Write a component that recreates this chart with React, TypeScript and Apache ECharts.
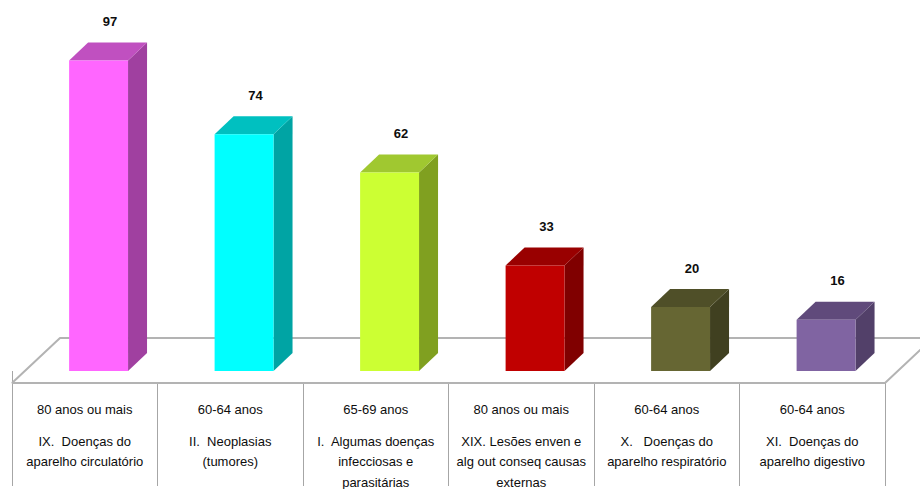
import React, { useEffect, useRef } from "react";
import * as echarts from "echarts";

const ageGroups = [
  "80 anos ou mais",
  "60-64 anos",
  "65-69 anos",
  "80 anos ou mais",
  "60-64 anos",
  "60-64 anos",
];
const causes = [
  "IX.  Doenças do\naparelho circulatório",
  "II.  Neoplasias\n(tumores)",
  "I.  Algumas doenças\ninfecciosas e\nparasitárias",
  "XIX. Lesões enven e\nalg out conseq causas\nexternas",
  "X.   Doenças do\naparelho respiratório",
  "XI.  Doenças do\naparelho digestivo",
];
const values = [97, 74, 62, 33, 20, 16];
const frontColors = ["#FF66FF", "#00FFFF", "#CCFF33", "#C00000", "#666633", "#8064A2"];
const sideColors = ["#A040A0", "#00A4A4", "#80A020", "#800000", "#404020", "#524069"];
const topColors = ["#C050C0", "#00C0C0", "#A0C830", "#990000", "#4F4F28", "#604A7B"];

const FONT = "'Liberation Sans', Arial, sans-serif";
const TEXT = "#0d0d0d";

export default function App() {
  const ref = useRef<HTMLDivElement>(null);
  useEffect(() => {
    if (!ref.current) return;
    const chart = echarts.init(ref.current, undefined, { renderer: "svg" });
    const categories = ageGroups.map((a, i) => a + " | " + causes[i]);
    chart.setOption({
      animation: false,
      backgroundColor: "#ffffff",
      grid: { left: 12, right: 35, top: 51, bottom: 118, containLabel: false },
      xAxis: {
        type: "category",
        data: categories,
        offset: 12,
        boundaryGap: true,
        axisLine: { show: false },
        axisTick: {
          show: true,
          length: 115,
          alignWithLabel: false,
          lineStyle: { color: "#a6a6a6", width: 1 },
        },
        axisLabel: {
          interval: 0,
          margin: 4,
          verticalAlign: "top",
          align: "center",
          fontFamily: FONT,
          fontSize: 13,
          color: TEXT,
          formatter: (_v: string, idx: number) =>
            `{a|${ageGroups[idx]}}\n` +
            causes[idx]
              .split("\n")
              .map((l) => `{b|${l}}`)
              .join("\n"),
          rich: {
            a: { lineHeight: 44, fontFamily: FONT, fontSize: 13, color: TEXT },
            b: { lineHeight: 20.5, fontFamily: FONT, fontSize: 13, color: TEXT },
          },
        },
      },
      yAxis: { type: "value", min: 0, max: 100, show: false, splitLine: { show: false } },
      series: [
        {
          type: "custom",
          z: 1,
          silent: true,
          clip: false,
          data: [[0, 0]],
          renderItem: (params: any) => {
            const cs = params.coordSys;
            const fy = cs.y + cs.height + 12;
            const lx = cs.x;
            const rx = cs.x + cs.width;
            return {
              type: "polygon",
              shape: {
                points: [
                  [lx, fy],
                  [rx, fy],
                  [rx + 48, fy - 45],
                  [lx + 48, fy - 45],
                ],
              },
              style: { fill: "#ffffff", stroke: "#b3b3b3", lineWidth: 2, lineJoin: "bevel" },
            };
          },
        },
        {
          type: "custom",
          z: 2,
          clip: false,
          data: values.map((v, i) => [i, v]),
          renderItem: (params: any, api: any) => {
            const i = api.value(0);
            const v = api.value(1);
            const base = api.coord([i, 0]);
            const top = api.coord([i, v]);
            const band = api.size([1, 0])[0];
            const fw = band * 0.405;
            const shift = band * 0.095;
            const dx = 19;
            const dy = 18;
            const x0 = base[0] + shift - fw / 2;
            const x1 = x0 + fw;
            const yb = base[1];
            const yt = top[1];
            const idx = params.dataIndex;
            return {
              type: "group",
              children: [
                {
                  type: "polygon",
                  shape: { points: [[x1, yb], [x1 + dx, yb - dy], [x1 + dx, yt - dy], [x1, yt]] },
                  style: { fill: sideColors[idx] },
                },
                {
                  type: "polygon",
                  shape: { points: [[x0, yt], [x1, yt], [x1 + dx, yt - dy], [x0 + dx, yt - dy]] },
                  style: { fill: topColors[idx] },
                },
                {
                  type: "rect",
                  shape: { x: x0, y: yt, width: fw, height: yb - yt },
                  style: { fill: frontColors[idx] },
                },
                {
                  type: "text",
                  x: x0 + (fw + dx) / 2 + 2,
                  y: yt - 39,
                  style: {
                    text: String(v),
                    fontFamily: FONT,
                    fontWeight: "bold",
                    fontSize: 13,
                    fill: TEXT,
                    align: "center",
                    verticalAlign: "middle",
                  },
                },
              ],
            };
          },
        },
      ],
    });
    return () => chart.dispose();
  }, []);
  return (
    <div
      ref={ref}
      style={{ position: "fixed", left: 0, top: 0, width: 920, height: 489, background: "#fff" }}
    />
  );
}
